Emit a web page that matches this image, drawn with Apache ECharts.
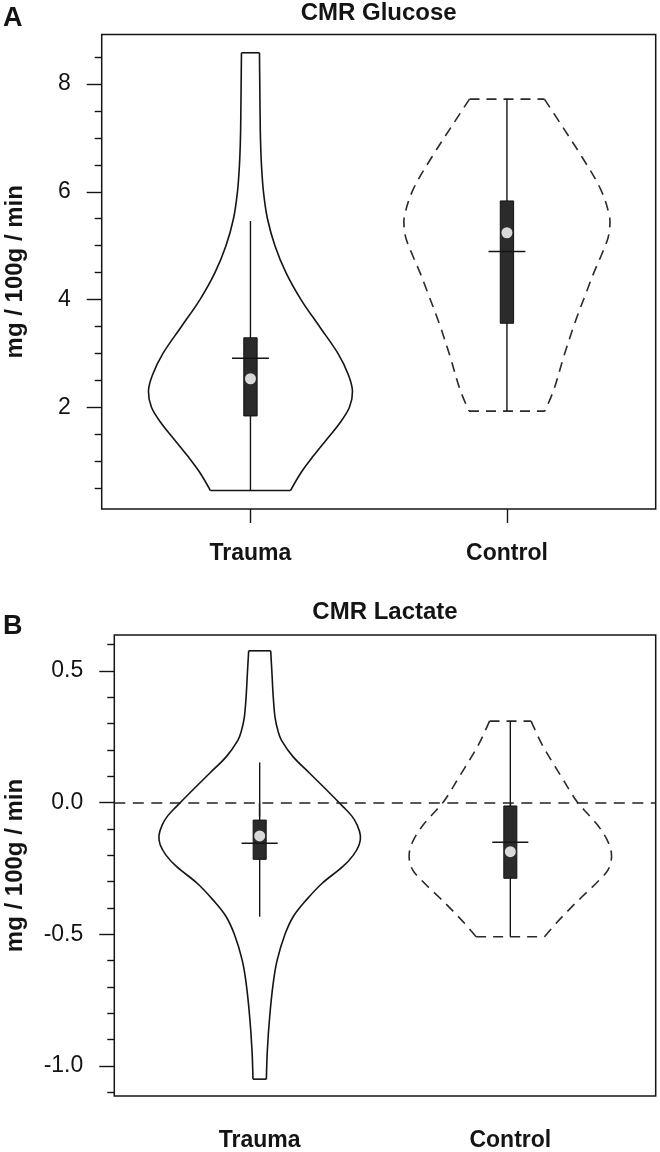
<!DOCTYPE html>
<html>
<head>
<meta charset="utf-8">
<script src="https://cdn.jsdelivr.net/npm/echarts@6/dist/echarts.min.js"></script>
<style>
html,body{margin:0;padding:0;background:#fff;}
#chart{width:660px;height:1152px;}
</style>
</head>
<body>
<div id="chart"></div>
<script>
// ---------- data ----------
const categories = ['Trauma', 'Control'];
const categoryPositions = [1, 2];

// Panel A: CMR Glucose (mg / 100g / min) — violin outline: value vs half-width (x units)
const glucoseTraumaY = [8.58, 8.0, 7.5, 7.0, 6.5, 6.0, 5.5, 5.0, 4.5, 4.0, 3.5, 3.0, 2.6, 2.3, 2.0, 1.7, 1.4, 1.1, 0.8, 0.456];
const glucoseTraumaHalfWidth = [0.0351, 0.0363, 0.0374, 0.0390, 0.0429, 0.0507, 0.0663, 0.0955, 0.1384, 0.1969, 0.2690, 0.3411, 0.3820, 0.3977, 0.3860, 0.3470, 0.2963, 0.2456, 0.1988, 0.1560];
const glucoseTraumaStats = { low: 0.456, q1: 1.84, median: 2.91, q3: 3.29, high: 5.46, mean: 2.53 };

const glucoseControlY = [7.72, 7.27, 6.65, 6.04, 5.54, 5.3, 5.11, 4.80, 4.50, 4.19, 3.57, 2.95, 2.33, 1.93];
const glucoseControlHalfWidth = [0.146, 0.208, 0.292, 0.366, 0.400, 0.400, 0.392, 0.366, 0.339, 0.314, 0.265, 0.222, 0.183, 0.148];
const glucoseControlStats = { low: 1.93, q1: 3.56, median: 4.89, q3: 5.83, high: 7.72, mean: 5.24 };

const glucoseMajorTicks = [2, 4, 6, 8];
const glucoseMinorTicks = [0.5, 1, 1.5, 2.5, 3, 3.5, 4.5, 5, 5.5, 6.5, 7, 7.5, 8.5];

// Panel B: CMR Lactate (mg / 100g / min)
const lactateTraumaY = [0.577, 0.49, 0.40, 0.32, 0.27, 0.238, 0.175, 0.112, 0.049, -0.015, -0.05, -0.085, -0.125, -0.16, -0.2, -0.243, -0.306, -0.37, -0.433, -0.5, -0.598, -0.686, -0.813, -0.939, -1.05];
const lactateTraumaHalfWidth = [0.0439, 0.0491, 0.0543, 0.0619, 0.0738, 0.0866, 0.1329, 0.1995, 0.2662, 0.3324, 0.3671, 0.3891, 0.4018, 0.3970, 0.3731, 0.3312, 0.2494, 0.1856, 0.1337, 0.1010, 0.0698, 0.0539, 0.0399, 0.0307, 0.0267];
const lactateTraumaStats = { low: -0.433, q1: -0.215, median: -0.154, q3: -0.066, high: 0.153, mean: -0.126 };

const lactateControlY = [0.310, 0.226, 0.162, 0.099, 0.036, 0.0, -0.045, -0.091, -0.154, -0.205, -0.256, -0.306, -0.357, -0.408, -0.458, -0.509];
const lactateControlHalfWidth = [0.0830, 0.1237, 0.1628, 0.2035, 0.2434, 0.2694, 0.3113, 0.3532, 0.3923, 0.4038, 0.3891, 0.3424, 0.2861, 0.2326, 0.1828, 0.1365];
const lactateControlStats = { low: -0.509, q1: -0.287, median: -0.150, q3: -0.0125, high: 0.310, mean: -0.186 };

const lactateMajorTicks = [-1.0, -0.5, 0.0, 0.5];
const lactateMinorTicks = [-1.1, -0.9, -0.8, -0.7, -0.6, -0.4, -0.3, -0.2, -0.1, 0.1, 0.2, 0.3, 0.4, 0.6];
const lactateReference = 0;

const panelTitles = ['CMR Glucose', 'CMR Lactate'];
const panelLetters = ['A', 'B'];
const yAxisTitle = 'mg / 100g / min';

// ---------- chart ----------
const FONT = '"Liberation Sans", Arial, Helvetica, sans-serif';
const INK = '#141414';

const glucoseGroups = [
  { y: glucoseTraumaY, w: glucoseTraumaHalfWidth, s: glucoseTraumaStats, dashed: false },
  { y: glucoseControlY, w: glucoseControlHalfWidth, s: glucoseControlStats, dashed: true }
];
const lactateGroups = [
  { y: lactateTraumaY, w: lactateTraumaHalfWidth, s: lactateTraumaStats, dashed: false },
  { y: lactateControlY, w: lactateControlHalfWidth, s: lactateControlStats, dashed: true }
];

const BOX_HALF = 0.026;
const MEDIAN_HALF = 0.072;

function violinSeries(gridIdx, groups, extra) {
  const s = {
    type: 'custom',
    coordinateSystem: 'cartesian2d',
    xAxisIndex: gridIdx,
    yAxisIndex: gridIdx * 2,
    clip: false,
    silent: true,
    data: groups.map((g, i) => [categoryPositions[i], g.s.median]),
    renderItem: function (params, api) {
      const g = groups[params.dataIndex];
      const c = api.value(0);
      const n = g.y.length;
      const left = g.y.map((y, k) => api.coord([c - g.w[k], y]));
      const right = g.y.map((y, k) => api.coord([c + g.w[k], y]));
      const outline = {
        stroke: g.dashed ? '#2a2a2a' : INK,
        lineWidth: 1.6,
        fill: null,
        lineDash: g.dashed ? [10, 7] : null
      };
      const children = [];
      children.push({ type: 'polyline', shape: { points: left, smooth: 0.35 }, style: outline });
      children.push({ type: 'polyline', shape: { points: right, smooth: 0.35 }, style: outline });
      children.push({ type: 'line', shape: { x1: left[0][0], y1: left[0][1], x2: right[0][0], y2: right[0][1] }, style: outline });
      children.push({ type: 'line', shape: { x1: left[n - 1][0], y1: left[n - 1][1], x2: right[n - 1][0], y2: right[n - 1][1] }, style: outline });
      // whisker
      const wt = api.coord([c, g.s.high]);
      const wb = api.coord([c, g.s.low]);
      children.push({ type: 'line', shape: { x1: wt[0], y1: wt[1], x2: wb[0], y2: wb[1] }, style: { stroke: INK, lineWidth: 1.4 } });
      // box
      const b1 = api.coord([c - BOX_HALF, g.s.q3]);
      const b2 = api.coord([c + BOX_HALF, g.s.q1]);
      children.push({ type: 'rect', shape: { x: b1[0], y: b1[1], width: b2[0] - b1[0], height: b2[1] - b1[1] }, style: { fill: '#2b2b2b', stroke: '#111', lineWidth: 1 } });
      // median line
      const m1 = api.coord([c - MEDIAN_HALF, g.s.median]);
      const m2 = api.coord([c + MEDIAN_HALF, g.s.median]);
      children.push({ type: 'line', shape: { x1: m1[0], y1: m1[1], x2: m2[0], y2: m2[1] }, style: { stroke: INK, lineWidth: 1.5 } });
      // mean dot
      const md = api.coord([c, g.s.mean]);
      children.push({ type: 'circle', shape: { cx: md[0], cy: md[1], r: 5.5 }, style: { fill: '#d9d9d9', stroke: null } });
      return { type: 'group', children: children };
    }
  };
  return Object.assign(s, extra || {});
}

function xAxisFor(gridIdx) {
  return {
    gridIndex: gridIdx,
    type: 'value',
    min: 0.42,
    max: 2.58,
    axisLine: { show: false },
    splitLine: { show: false },
    axisTick: { show: true, customValues: categoryPositions, length: 14, lineStyle: { color: INK, width: 1.4 } },
    axisLabel: {
      customValues: categoryPositions,
      formatter: v => categories[categoryPositions.indexOf(Math.round(v))],
      fontFamily: FONT, fontWeight: 'bold', fontSize: 23, color: INK, margin: 33
    }
  };
}

function yAxesFor(gridIdx, min, max, majors, minors, fmt, nameGap) {
  return [
    {
      gridIndex: gridIdx,
      type: 'value',
      position: 'left',
      min: min, max: max,
      axisLine: { show: false },
      splitLine: { show: false },
      axisTick: { show: true, customValues: majors, length: 15, lineStyle: { color: INK, width: 1.4 } },
      axisLabel: { customValues: majors, formatter: fmt, fontFamily: FONT, fontSize: 23, color: INK, margin: 31 },
      name: yAxisTitle,
      nameLocation: 'middle',
      nameRotate: 90,
      nameGap: nameGap,
      nameTextStyle: { fontFamily: FONT, fontWeight: 'bold', fontSize: 24, color: INK }
    },
    {
      gridIndex: gridIdx,
      type: 'value',
      position: 'left',
      min: min, max: max,
      axisLine: { show: false },
      splitLine: { show: false },
      axisTick: { show: true, customValues: minors, length: 7, lineStyle: { color: INK, width: 1.4 } },
      axisLabel: { show: false }
    }
  ];
}

const chart = echarts.init(document.getElementById('chart'), null, { renderer: 'canvas' });

const option = {
  backgroundColor: '#ffffff',
  animation: false,
  grid: [
    { left: 101.7, right: 4.3, top: 34.5, bottom: 1152 - 509, outerBoundsMode: 'none', containLabel: false, show: true, borderColor: INK, borderWidth: 1.5, backgroundColor: 'transparent' },
    { left: 114.3, right: 4.3, top: 635, bottom: 1152 - 1096, outerBoundsMode: 'none', containLabel: false, show: true, borderColor: INK, borderWidth: 1.5, backgroundColor: 'transparent' }
  ],
  xAxis: [xAxisFor(0), xAxisFor(1)],
  yAxis: [].concat(
    yAxesFor(0, 0.113, 8.919, glucoseMajorTicks, glucoseMinorTicks, v => String(Math.round(v)), 74.5),
    yAxesFor(1, -1.114, 0.637, lactateMajorTicks, lactateMinorTicks, v => v.toFixed(1), 86.5)
  ),
  graphic: [
    { type: 'text', x: 3, y: 5, style: { text: panelLetters[0], font: 'bold 27px ' + FONT, fill: INK, align: 'left', verticalAlign: 'top' } },
    { type: 'text', x: 378.7, y: 13, style: { text: panelTitles[0], font: 'bold 24px ' + FONT, fill: INK, align: 'center', verticalAlign: 'middle' } },
    { type: 'text', x: 3, y: 613, style: { text: panelLetters[1], font: 'bold 27px ' + FONT, fill: INK, align: 'left', verticalAlign: 'top' } },
    { type: 'text', x: 385, y: 612.5, style: { text: panelTitles[1], font: 'bold 24px ' + FONT, fill: INK, align: 'center', verticalAlign: 'middle' } }
  ],
  series: [
    violinSeries(0, glucoseGroups),
    violinSeries(1, lactateGroups, {
      markLine: {
        silent: true,
        symbol: 'none',
        label: { show: false },
        lineStyle: { color: '#222', width: 1.5, type: [11, 7.5] },
        data: [{ yAxis: lactateReference }]
      }
    })
  ]
};

chart.setOption(option);
</script>
</body>
</html>
